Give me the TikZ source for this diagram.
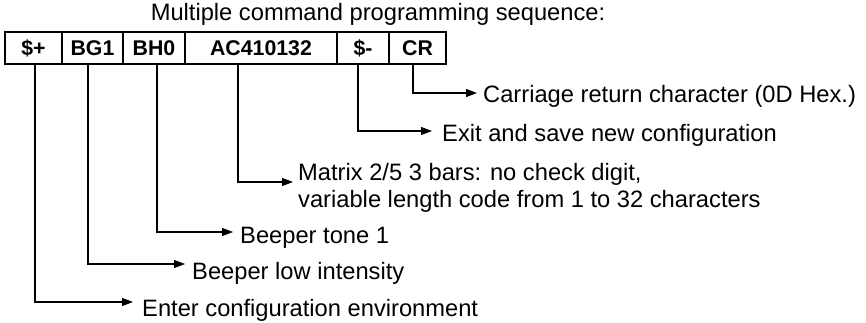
\documentclass[tikz,border=0pt]{standalone}
\usepackage{fontspec}
\setmainfont{Liberation Sans}
\usetikzlibrary{arrows.meta}
\begin{document}
\begin{tikzpicture}[x=1pt,y=-1pt,
  cell/.style={draw,line width=1.4pt,minimum height=32pt,inner sep=0pt,font=\fontsize{21.3}{24}\selectfont\bfseries},
  lbl/.style={anchor=base west,inner sep=0pt,font=\fontsize{23.7}{27}\selectfont},
  conn/.style={line width=1.1pt,-{Triangle[length=11pt,width=8pt]}}]
\useasboundingbox (0,0) rectangle (866,323);
\node[lbl,anchor=base] (title) at (378,21) {Multiple command programming sequence:};
% cells
\node[cell,minimum width=57pt] (c1) at (33.5,48) {\$+};
\node[cell,minimum width=61pt] (c2) at (92.5,48) {BG1};
\node[cell,minimum width=62pt] (c3) at (154,48) {BH0};
\node[cell,minimum width=152pt] (c4) at (261,48) {AC410132};
\node[cell,minimum width=52pt] (c5) at (363,48) {\$-};
\node[cell,minimum width=57pt] (c6) at (417.5,48) {CR};
% arrow tips
\coordinate (t6) at (477,93);
\coordinate (t5) at (432,131);
\coordinate (t4) at (293,182);
\coordinate (t3) at (233,232);
\coordinate (t2) at (185,264);
\coordinate (t1) at (133,302);
% labels
\node[lbl] (l6) at (483,103) {Carriage return character (0D Hex.)};
\node[lbl] (l5) at (442,142) {Exit and save new configuration};
\node[lbl,align=left] (l4) at (298,207) {Matrix 2/5 3 bars: no check digit,\\variable length code from 1 to 32 characters};
\node[lbl] (l3) at (240,243) {Beeper tone 1};
\node[lbl] (l2) at (192,279) {Beeper low intensity};
\node[lbl] (l1) at (142,316) {Enter configuration environment};
% connectors
\draw[conn] ([xshift=-4.5pt]c6.south) |- (t6);
\draw[conn] ([xshift=-5pt]c5.south) |- (t5);
\draw[conn] ([xshift=-23pt]c4.south) |- (t4);
\draw[conn] ([xshift=3pt]c3.south) |- (t3);
\draw[conn] ([xshift=-4.5pt]c2.south) |- (t2);
\draw[conn] ([xshift=1.5pt]c1.south) |- (t1);
\end{tikzpicture}
\end{document}
